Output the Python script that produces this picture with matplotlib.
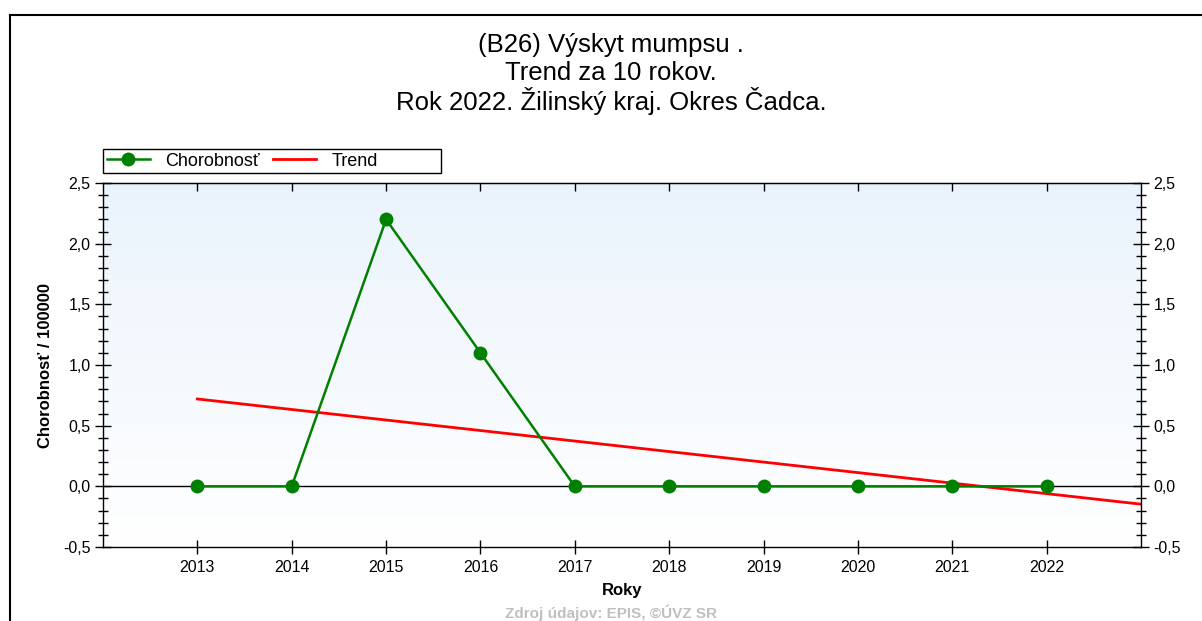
import matplotlib.pyplot as plt
import matplotlib.ticker as mticker
from matplotlib.patches import Rectangle
import numpy as np

plt.rcParams["font.family"] = ["Liberation Sans", "DejaVu Sans"]

# data
roky = [2013, 2014, 2015, 2016, 2017, 2018, 2019, 2020, 2021, 2022]
chorobnost = [0.0, 0.0, 2.2, 1.1, 0.0, 0.0, 0.0, 0.0, 0.0, 0.0]
trend_x = [2013, 2023]
trend_y = [0.72, -0.147]
y_ticks = [-0.5, 0.0, 0.5, 1.0, 1.5, 2.0, 2.5]
y_tick_labels = ["-0,5", "0,0", "0,5", "1,0", "1,5", "2,0", "2,5"]

title_lines = ["(B26) Výskyt mumpsu .", "Trend za 10 rokov.",
               "Rok 2022. Žilinský kraj. Okres Čadca."]

W, H = 1202, 621
fig = plt.figure(figsize=(W / 100, H / 100), dpi=100)

# outer frame
fig.add_artist(plt.Line2D([10 / W, 10 / W], [0, 1 - 15 / H], color="black", lw=1.5))
fig.add_artist(plt.Line2D([10 / W, 1], [1 - 15 / H, 1 - 15 / H], color="black", lw=1.5))

left, right, top, bottom = 103, 1141, 183, 547
ax = fig.add_axes([left / W, 1 - bottom / H, (right - left) / W, (bottom - top) / H])

ax.set_xlim(2012, 2023)
ax.set_ylim(-0.5, 2.5)

# gradient background
grad = np.linspace(0, 1, 256).reshape(-1, 1)
c_top = np.array([0.918, 0.953, 0.988])
c_bot = np.array([1.0, 1.0, 1.0])
img = c_bot + (c_top - c_bot) * grad
ax.imshow(img.reshape(256, 1, 3), extent=[2012, 2023, -0.5, 2.5], origin="lower",
          aspect="auto", zorder=0)

ax.axhline(0, color="black", lw=1, zorder=1)

ax.plot(trend_x, trend_y, color="#ff0000", lw=2, label="Trend", zorder=2)
ax.plot(roky, chorobnost, color="#008000", lw=1.8, marker="o", markersize=9,
        label="Chorobnosť", zorder=3)

for s in ax.spines.values():
    s.set_linewidth(1)

ax.set_xticks(roky)
ax.set_xticklabels([str(r) for r in roky], fontsize=11.5)
ax.tick_params(axis="x", direction="inout", length=10, width=1, pad=4)

top_ax = ax.secondary_xaxis("top")
top_ax.set_xticks(roky)
top_ax.tick_params(axis="x", direction="in", length=6, width=1, labeltop=False)

ax.set_yticks(y_ticks)
ax.set_yticklabels(y_tick_labels, fontsize=11.5)
ax.yaxis.set_minor_locator(mticker.MultipleLocator(0.1))
ax.tick_params(axis="y", which="major", direction="inout", length=12, width=1,
               right=True, labelright=True, pad=3)
ax.tick_params(axis="y", which="minor", direction="inout", length=7, width=1,
               right=True)

ax.set_xlabel("Roky", fontsize=12, fontweight="bold", labelpad=6)
ax.set_ylabel("Chorobnosť / 100000", fontsize=12, fontweight="bold", labelpad=7)

# legend box
fig.add_artist(Rectangle((103 / W, 1 - 173 / H), 338 / W, 24 / H, fill=False,
                         edgecolor="black", lw=1, transform=fig.transFigure))
handles, labels = ax.get_legend_handles_labels()
leg = fig.legend(handles[::-1], labels[::-1], ncol=2, loc="center left",
                 bbox_to_anchor=(103 / W, 1 - 161 / H), fontsize=13,
                 frameon=False, borderaxespad=0, borderpad=0.2,
                 handlelength=2.4, columnspacing=0.7, handletextpad=0.85)

# title, one line at a time for even spacing
for i, line in enumerate(title_lines):
    fig.text(611 / W, 1 - (45 + 28 * i) / H, line, ha="center", va="center",
             fontsize=18.5)

fig.text(611 / W, 1 - 613 / H, "Zdroj údajov: EPIS, ©ÚVZ SR", ha="center",
         va="center", fontsize=11, fontweight="bold", color="#c0c0c0")

fig.savefig("out.png", dpi=100)
